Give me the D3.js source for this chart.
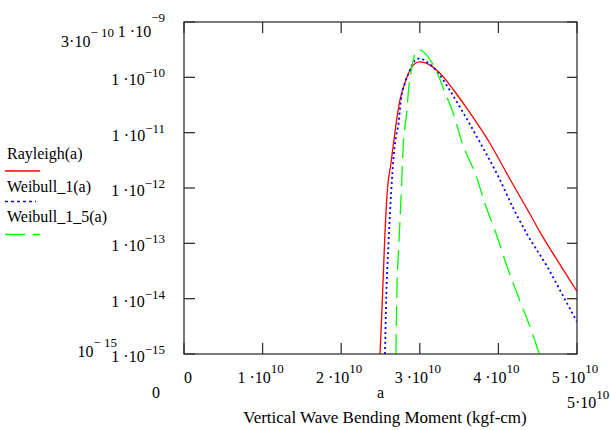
<!DOCTYPE html>
<html>
<head>
<meta charset="utf-8">
<script src="https://cdn.jsdelivr.net/npm/d3@7"></script>
<style>
  html, body { margin: 0; padding: 0; background: #fff; }
  svg { display: block; font-family: "Liberation Serif", "Times New Roman", serif; }
</style>
</head>
<body>
<svg id="chart" width="610" height="430"></svg>
<script>
// ---- Data ----
const seriesNames = ["Rayleigh(a)", "Weibull_1(a)", "Weibull_1_5(a)"];

const aRayleigh = [2.494e10, 2.52e10, 2.553e10, 2.587e10, 2.63e10, 2.665e10, 2.70e10, 2.748e10, 2.81e10, 2.866e10, 2.94e10, 3.00e10, 3.13e10, 3.26e10, 3.43e10, 3.61e10, 3.89e10, 4.13e10, 4.36e10, 4.54e10, 4.80e10, 5.00e10];
const pdfRayleigh = [1.0e-15, 7.1e-15, 1.15e-13, 9.1e-13, 2.6e-12, 6.3e-12, 1.5e-11, 3.9e-11, 7.9e-11, 1.26e-10, 1.78e-10, 1.9e-10, 1.66e-10, 1.17e-10, 5.9e-11, 2.6e-11, 6.5e-12, 1.6e-12, 4.3e-13, 1.5e-13, 3.8e-14, 1.35e-14];

const aWeibull1 = [2.557e10, 2.57e10, 2.604e10, 2.637e10, 2.667e10, 2.69e10, 2.73e10, 2.76e10, 2.81e10, 2.875e10, 2.94e10, 3.00e10, 3.09e10, 3.24e10, 3.38e10, 3.53e10, 3.77e10, 4.00e10, 4.19e10, 4.36e10, 4.62e10, 4.85e10, 5.00e10];
const pdfWeibull1 = [1.0e-15, 7.1e-15, 1.15e-13, 9.1e-13, 3.7e-12, 7.4e-12, 1.5e-11, 3.9e-11, 7.8e-11, 1.35e-10, 2.04e-10, 2.2e-10, 1.9e-10, 1.17e-10, 5.9e-11, 2.6e-11, 6.5e-12, 1.6e-12, 4.3e-13, 1.5e-13, 3.8e-14, 9.5e-15, 3.8e-15];

const aWeibull15 = [2.697e10, 2.706e10, 2.73e10, 2.76e10, 2.79e10, 2.83e10, 2.86e10, 2.905e10, 2.95e10, 3.00e10, 3.11e10, 3.215e10, 3.34e10, 3.41e10, 3.54e10, 3.72e10, 3.83e10, 3.97e10, 4.11e10, 4.27e10, 4.43e10, 4.52e10];
const pdfWeibull15 = [1.0e-15, 9.5e-15, 7.6e-14, 6.0e-13, 6.0e-12, 2.1e-11, 6.5e-11, 1.66e-10, 2.9e-10, 3.1e-10, 2.3e-10, 1.26e-10, 4.5e-11, 2.6e-11, 6.5e-12, 1.6e-12, 5.2e-13, 1.5e-13, 3.8e-14, 9.5e-15, 2.4e-15, 1.0e-15];

const xTickValues = [0, 1e10, 2e10, 3e10, 4e10, 5e10];
const xTickBase = ["0", "1 \u00B710", "2 \u00B710", "3 \u00B710", "4 \u00B710", "5 \u00B710"];
const xTickExp = ["", "10", "10", "10", "10", "10"];

const yTickValues = [1e-9, 1e-10, 1e-11, 1e-12, 1e-13, 1e-14, 1e-15];
const yTickBase = ["1 \u00B710", "1 \u00B710", "1 \u00B710", "1 \u00B710", "1 \u00B710", "1 \u00B710", "1 \u00B710"];
const yTickExp = ["\u22129", "\u221210", "\u221211", "\u221212", "\u221213", "\u221214", "\u221215"];

const xLimits = ["0", "5\u00B710"];
const xLimitExp = ["", "10"];
const yLimits = ["3\u00B710", "10"];
const yLimitExp = ["\u2212 10", "\u2212 15"];
const xVarName = "a";
const xTitle = "Vertical Wave Bending Moment (kgf-cm)";

// ---- Layout ----
const svg = d3.select("#chart");
const L = 184, R = 577, T = 22, B = 354;

const x = d3.scaleLinear().domain([0, 5e10]).range([L, R]);
const y = d3.scaleLog().domain([1e-15, 1e-9]).range([B, T]);

const colors = ["#ff0000", "#0000ff", "#00ff00"];
const dashes = [null, "2,3", "20,8"];

svg.append("defs").append("clipPath").attr("id", "plotclip")
  .append("rect").attr("x", L).attr("y", T).attr("width", R - L).attr("height", B - T);

// curves
const series = [
  { a: aRayleigh, p: pdfRayleigh },
  { a: aWeibull1, p: pdfWeibull1 },
  { a: aWeibull15, p: pdfWeibull15 }
];
const line = d3.line()
  .x(d => x(d[0]))
  .y(d => y(d[1]))
  .curve(d3.curveMonotoneX);

const gCurves = svg.append("g").attr("clip-path", "url(#plotclip)");
series.forEach((s, i) => {
  const pts = s.a.map((v, k) => [v, s.p[k]]);
  gCurves.append("path")
    .attr("d", line(pts))
    .attr("fill", "none")
    .attr("stroke", colors[i])
    .attr("stroke-width", i === 1 ? 1.8 : 1.3)
    .attr("stroke-dasharray", dashes[i]);
});

// frame
const axisColor = "#333";
svg.append("rect")
  .attr("x", L).attr("y", T).attr("width", R - L).attr("height", B - T)
  .attr("fill", "none").attr("stroke", axisColor).attr("stroke-width", 1.3);

// ticks (inward on all four sides)
const tk = 11;
const gTicks = svg.append("g").attr("stroke", axisColor).attr("stroke-width", 1.3);
xTickValues.forEach(v => {
  const px = x(v);
  gTicks.append("line").attr("x1", px).attr("x2", px).attr("y1", B).attr("y2", B - tk);
  gTicks.append("line").attr("x1", px).attr("x2", px).attr("y1", T).attr("y2", T + tk);
});
yTickValues.forEach(v => {
  const py = y(v);
  gTicks.append("line").attr("x1", L).attr("x2", L + tk).attr("y1", py).attr("y2", py);
  gTicks.append("line").attr("x1", R).attr("x2", R - 10).attr("y1", py).attr("y2", py);
});

// helper: text with superscript
function sup(xp, yp, base, exp, anchor, expDy, baseSize, expSize) {
  const t = svg.append("text")
    .attr("x", xp).attr("y", yp)
    .attr("text-anchor", anchor)
    .attr("font-size", baseSize || 16)
    .attr("fill", "#000");
  t.append("tspan").text(base);
  if (exp) {
    t.append("tspan").attr("dy", expDy).attr("font-size", expSize || 13).text(exp);
  }
  return t;
}

// y tick labels
yTickValues.forEach((v, i) => {
  const py = y(v);
  if (i === 0) sup(165, py + 15, yTickBase[i], yTickExp[i], "end", -15);
  else sup(165, py + 8, yTickBase[i], yTickExp[i], "end", -8);
});

// x tick labels
xTickValues.forEach((v, i) => {
  const px = x(v);
  if (i === 0) sup(184, 383, xTickBase[i], "", "start", 0);
  else sup(px - 2, 383, xTickBase[i], xTickExp[i], "middle", -10);
});

// axis limit labels (Mathcad style)
sup(114, 47, yLimits[0], yLimitExp[0], "end", -10);
sup(117, 357, yLimits[1], yLimitExp[1], "end", -10);
sup(160, 398, xLimits[0], "", "end", 0);
sup(567, 408, xLimits[1], xLimitExp[1], "start", -9);

// x variable name and title
svg.append("text").attr("x", (L + R) / 2).attr("y", 398)
  .attr("text-anchor", "middle").attr("font-size", 16).text(xVarName);
svg.append("text").attr("x", 385).attr("y", 423)
  .attr("text-anchor", "middle").attr("font-size", 17).text(xTitle);

// legend
const legTextY = [159, 191.5, 221.5];
const legLineY = [171, 201.5, 234.5];
const legLineX2 = [40, 36, 40];
seriesNames.forEach((n, i) => {
  svg.append("text").attr("x", 7).attr("y", legTextY[i])
    .attr("font-size", 16).text(n);
  svg.append("line")
    .attr("x1", 5).attr("x2", legLineX2[i])
    .attr("y1", legLineY[i]).attr("y2", legLineY[i])
    .attr("stroke", colors[i])
    .attr("stroke-width", i === 1 ? 1.5 : 1.3)
    .attr("stroke-dasharray", i === 1 ? "3,3" : dashes[i]);
});
</script>
</body>
</html>
